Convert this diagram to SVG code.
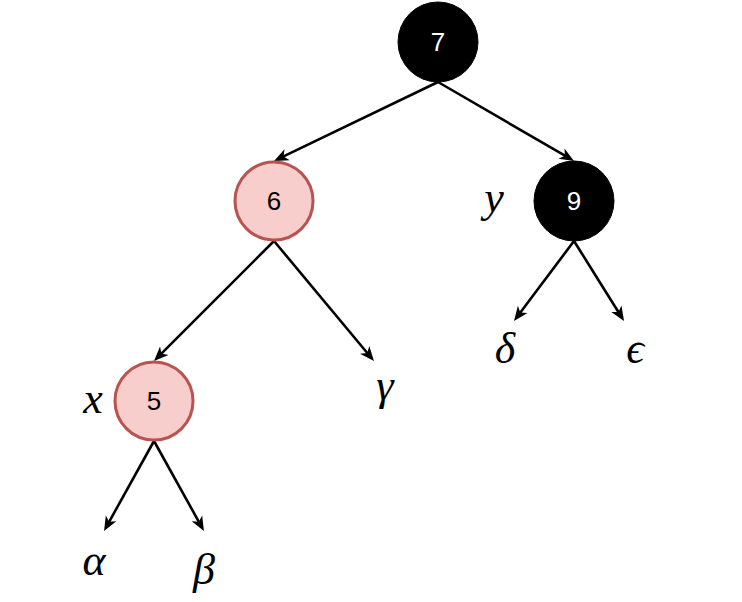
<svg xmlns="http://www.w3.org/2000/svg" width="742" height="602" viewBox="0 0 742 602">
<defs>
<marker id="arr" markerUnits="userSpaceOnUse" viewBox="-10 -7 18 14" refX="0" refY="0" markerWidth="18" markerHeight="14" orient="auto">
<path d="M6.5,0 L-8,-6 L-4,0 L-8,6 Z" fill="#000"/>
</marker>
<style>
.e{stroke:#000;stroke-width:2.6;fill:none;marker-end:url(#arr)}
.blk{fill:#000;stroke:#000;stroke-width:1}
.red{fill:#f8cecc;stroke:#b85450;stroke-width:3}
.lw{font-family:"Liberation Sans",Arial,sans-serif;font-size:26px;fill:#fff;text-anchor:middle}
.lb{font-family:"Liberation Sans",Arial,sans-serif;font-size:26px;fill:#000;text-anchor:middle}
.m{font-family:"Liberation Serif","Times New Roman",serif;font-style:italic;font-size:44px;fill:#000;text-anchor:middle}
</style>
</defs>
<rect width="742" height="602" fill="#fff"/>
<g id="connectors">
<line class="e" x1="438" y1="82" x2="279.9" y2="158.2"/>
<line class="e" x1="438" y1="82" x2="568.4" y2="157.7"/>
<line class="e" x1="274" y1="241" x2="158.6" y2="356.4"/>
<line class="e" x1="274" y1="241" x2="369.8" y2="356.0"/>
<line class="e" x1="574" y1="241" x2="517.9" y2="315.8"/>
<line class="e" x1="574" y1="241" x2="620.6" y2="315.5"/>
<line class="e" x1="154" y1="441" x2="107.2" y2="525.3"/>
<line class="e" x1="154" y1="441" x2="200.8" y2="525.3"/>
</g>
<g id="n7"><circle class="blk" cx="438" cy="42" r="40"/><text class="lw" x="438" y="51">7</text></g>
<g id="n6"><circle class="red" cx="274" cy="201" r="39"/><text class="lb" x="274" y="210">6</text></g>
<g id="n9"><circle class="blk" cx="574" cy="201" r="40"/><text class="lw" x="574" y="210">9</text></g>
<g id="n5"><circle class="red" cx="154" cy="401" r="39"/><text class="lb" x="154" y="410">5</text></g>
<g id="labels">
<text class="m" x="93" y="413">x</text>
<text class="m" x="494" y="212">y</text>
<text class="m" x="94" y="575">α</text>
<text class="m" x="204" y="584">β</text>
<text class="m" x="385" y="400">γ</text>
<text class="m" x="505" y="363">δ</text>
<text class="m" x="635" y="363">ϵ</text>
</g>
</svg>
